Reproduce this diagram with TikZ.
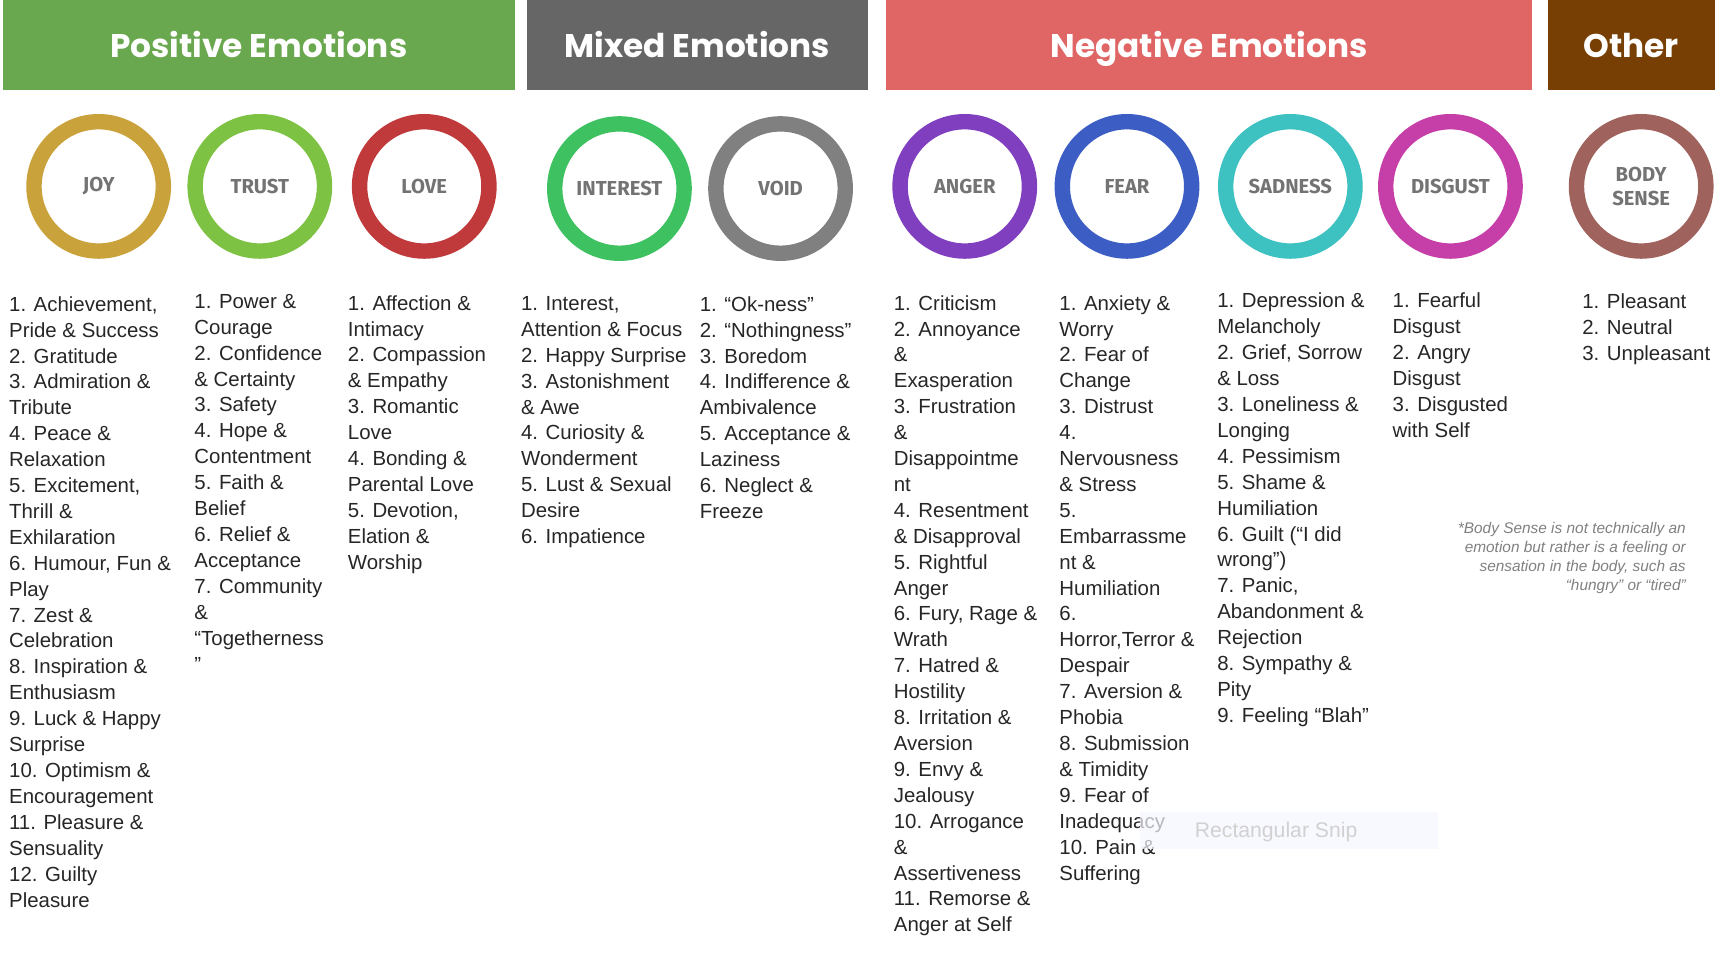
\documentclass[tikz,border=0pt]{standalone}
\usepackage{fontspec}
\setmainfont{Liberation Sans}
\newfontfamily\headfont{Poppins}
\newfontfamily\ringfont{Fira Sans}
\begin{document}
\begin{tikzpicture}[x=0.02cm,y=-0.02cm,
  hdr/.style={fill=#1,draw=none},
  hdrtxt/.style={anchor=base,text=white,font=\headfont\bfseries\fontsize{17}{20}\selectfont},
  ring/.style={draw=#1,line width=8pt},
  ringtxt/.style={text=black!55,font=\ringfont\bfseries\fontsize{10.5}{12.5}\selectfont,align=center},
  lst/.style={anchor=north west,align=left,inner sep=0pt,text=black!85,font=\fontsize{10.6}{13.45}\selectfont}]
\useasboundingbox (0,0) rectangle (1568,870);
\definecolor{cpos}{HTML}{6AA84F}\definecolor{cmix}{HTML}{666666}
\definecolor{cneg}{HTML}{E06666}\definecolor{coth}{HTML}{783F04}
\fill[cpos] (3,0) rectangle (470,82);
\fill[cmix] (481,0) rectangle (792,82);
\fill[cneg] (808,0) rectangle (1397,82);
\fill[coth] (1412,0) rectangle (1564,82);
\node[hdrtxt] (hp) at (236,52) {Positive Emotions};
\node[hdrtxt] (hm) at (636,52) {Mixed Emotions};
\node[hdrtxt] (hn) at (1103,52) {Negative Emotions};
\node[hdrtxt] (ho) at (1488,52) {Other};
\definecolor{cjoy}{HTML}{C9A23C}\definecolor{ctrust}{HTML}{7DC242}
\definecolor{clove}{HTML}{C0393B}\definecolor{cint}{HTML}{3EC160}
\definecolor{cvoid}{HTML}{808080}\definecolor{cang}{HTML}{7F3FBF}
\definecolor{cfear}{HTML}{3C5DC4}\definecolor{csad}{HTML}{3EC1C1}
\definecolor{cdis}{HTML}{C63FA8}\definecolor{cbody}{HTML}{A0625C}
\foreach \x/\y/\c/\t in {90/170/cjoy/JOY,237/170/ctrust/TRUST,387/170/clove/LOVE,565/172/cint/INTEREST,712/172/cvoid/VOID,880/170/cang/ANGER,1028/170/cfear/FEAR,1177/170/csad/SADNESS,1323/170/cdis/DISGUST,1497/170/cbody/{BODY\\SENSE}}{
  \draw[ring=\c] (\x,\y) circle (59);
  \node[ringtxt] at (\x,\y) {\t};
}
\node[lst] (l1) at (8,270) {1. Achievement,\\Pride \& Success\\2. Gratitude\\3. Admiration \&\\Tribute\\4. Peace \&\\Relaxation\\5. Excitement,\\Thrill \&\\Exhilaration\\6. Humour, Fun \&\\Play\\7. Zest \&\\Celebration\\8. Inspiration \&\\Enthusiasm\\9. Luck \& Happy\\Surprise\\10. Optimism \&\\Encouragement\\11. Pleasure \&\\Sensuality\\12. Guilty\\Pleasure};
\node[lst] (l2) at (177,268) {1. Power \&\\Courage\\2. Confidence\\\& Certainty\\3. Safety\\4. Hope \&\\Contentment\\5. Faith \&\\Belief\\6. Relief \&\\Acceptance\\7. Community\\\&\\“Togetherness\\”};
\node[lst] (l3) at (317,269) {1. Affection \&\\Intimacy\\2. Compassion\\\& Empathy\\3. Romantic\\Love\\4. Bonding \&\\Parental Love\\5. Devotion,\\Elation \&\\Worship};
\node[lst] (l4) at (475,270) {1. Interest,\\Attention \& Focus\\2. Happy Surprise\\3. Astonishment\\\& Awe\\4. Curiosity \&\\Wonderment\\5. Lust \& Sexual\\Desire\\6. Impatience};
\node[lst] (l5) at (638,270) {1. “Ok-ness”\\2. “Nothingness”\\3. Boredom\\4. Indifference \&\\Ambivalence\\5. Acceptance \&\\Laziness\\6. Neglect \&\\Freeze};
\node[lst] (l6) at (815,269) {1. Criticism\\2. Annoyance\\\&\\Exasperation\\3. Frustration\\\&\\Disappointme\\nt\\4. Resentment\\\& Disapproval\\5. Rightful\\Anger\\6. Fury, Rage \&\\Wrath\\7. Hatred \&\\Hostility\\8. Irritation \&\\Aversion\\9. Envy \&\\Jealousy\\10. Arrogance\\\&\\Assertiveness\\11. Remorse \&\\Anger at Self};
\node[lst] (l7) at (966,269) {1. Anxiety \&\\Worry\\2. Fear of\\Change\\3. Distrust\\4.\\Nervousness\\\& Stress\\5.\\Embarrassme\\nt \&\\Humiliation\\6.\\Horror,Terror \&\\Despair\\7. Aversion \&\\Phobia\\8. Submission\\\& Timidity\\9. Fear of\\Inadequacy\\10. Pain \&\\Suffering};
\node[lst] (l8) at (1110,267) {1. Depression \&\\Melancholy\\2. Grief, Sorrow\\\& Loss\\3. Loneliness \&\\Longing\\4. Pessimism\\5. Shame \&\\Humiliation\\6. Guilt (“I did\\wrong”)\\7. Panic,\\Abandonment \&\\Rejection\\8. Sympathy \&\\Pity\\9. Feeling “Blah”};
\node[lst] (l9) at (1270,267) {1. Fearful\\Disgust\\2. Angry\\Disgust\\3. Disgusted\\with Self};
\node[lst] (l10) at (1443,268) {1. Pleasant\\2. Neutral\\3. Unpleasant};
\node[anchor=north east,align=right,inner sep=0pt,text=black!50,font=\itshape\fontsize{8}{9.8}\selectfont] (note) at (1538,476) {*Body Sense is not technically an\\emotion but rather is a feeling or\\sensation in the body, such as\\“hungry” or “tired”};
\fill[blue!4,opacity=0.7] (1040,741) rectangle (1312,774);
\node[text=black!18,font=\fontsize{11}{13}\selectfont] (snip) at (1164,759) {Rectangular Snip};
\end{tikzpicture}
\end{document}
